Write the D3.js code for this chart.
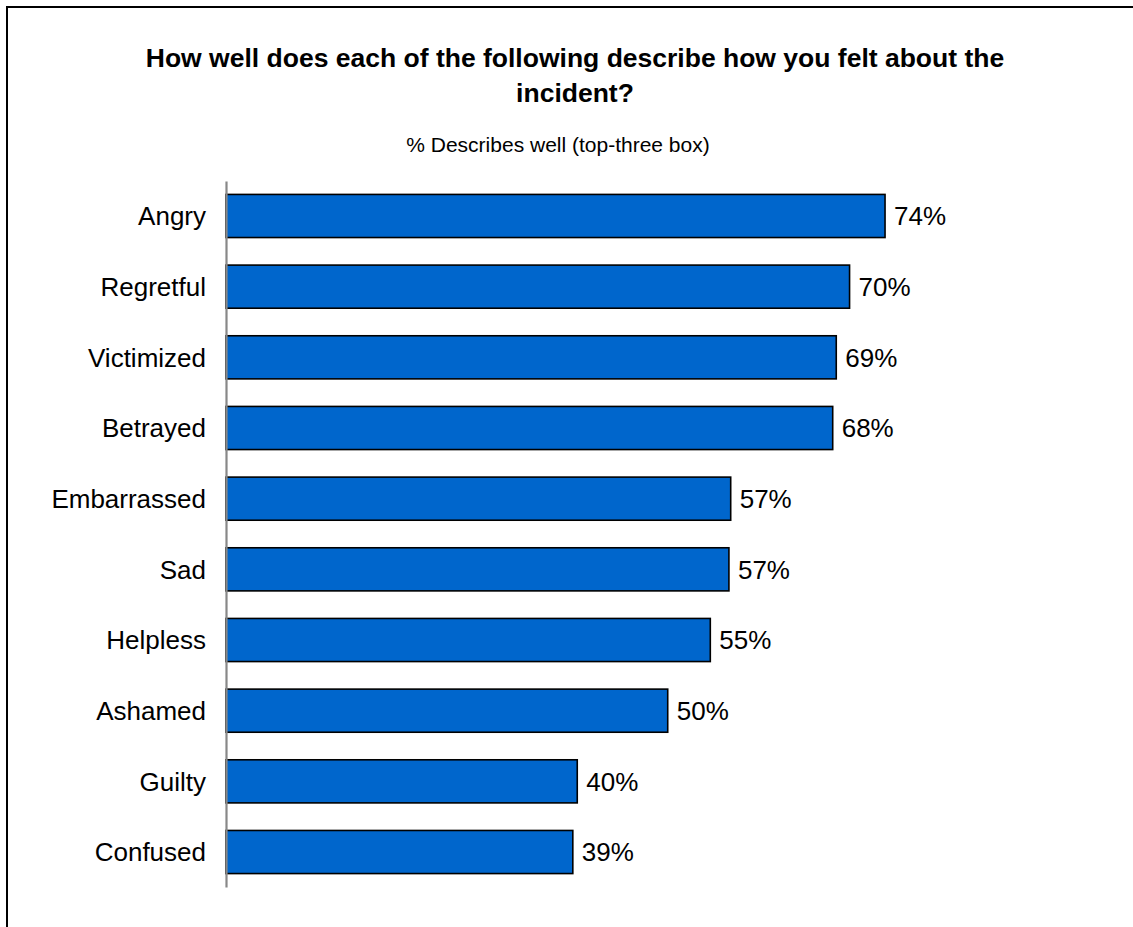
<!DOCTYPE html>
<html>
<head>
<meta charset="utf-8">
<script src="https://cdn.jsdelivr.net/npm/d3@7"></script>
<style>
  html, body { margin: 0; padding: 0; background: #fff; overflow: hidden; }
  svg { display: block; font-family: "Liberation Sans", Arial, sans-serif; }
</style>
</head>
<body>
<svg id="chart" width="1133" height="927"></svg>
<script>
const titleLines = ["How well does each of the following describe how you felt about the", "incident?"];
const subtitle = "% Describes well (top-three box)";
const categories = ["Angry", "Regretful", "Victimized", "Betrayed", "Embarrassed", "Sad", "Helpless", "Ashamed", "Guilty", "Confused"];
const values = [74.3, 70.3, 68.8, 68.4, 56.9, 56.7, 54.6, 49.8, 39.6, 39.1];

const svg = d3.select("#chart");

// outer frame: only left and top edges are inside the picture
svg.append("path")
  .attr("d", "M7,927 L7,7 L1133,7")
  .attr("fill", "none").attr("stroke", "#000").attr("stroke-width", 2);

// title
svg.append("g").selectAll("text").data(titleLines).join("text")
  .attr("x", 575)
  .attr("y", (d, i) => 67 + i * 35)
  .attr("text-anchor", "middle")
  .attr("font-size", 26.5)
  .attr("font-weight", "bold")
  .attr("fill", "#000")
  .text(d => d);

svg.append("text")
  .attr("x", 558).attr("y", 152)
  .attr("text-anchor", "middle")
  .attr("font-size", 21)
  .attr("fill", "#000")
  .text(subtitle);

const x = d3.scaleLinear().domain([0, 100]).range([226, 1113]);
const y = d3.scaleBand().domain(categories).range([181, 887])
  .paddingInner(0.39).paddingOuter(0.19);

// bars
svg.append("g").selectAll("rect").data(categories).join("rect")
  .attr("x", x(0))
  .attr("y", d => y(d))
  .attr("width", (d, i) => x(values[i]) - x(0))
  .attr("height", y.bandwidth())
  .attr("fill", "#0066CC")
  .attr("stroke", "#000")
  .attr("stroke-width", 1.6);

// category axis
const yAxis = d3.axisLeft(y).tickSize(0).tickPadding(20);
const ag = svg.append("g").attr("transform", `translate(${x(0)},0)`).call(yAxis);
ag.select(".domain").attr("stroke", "#888").attr("stroke-width", 2.2);
ag.selectAll("text")
  .attr("font-size", 26)
  .attr("font-family", "'Liberation Sans', Arial, sans-serif")
  .attr("fill", "#000")
  .attr("dy", "0.36em");

// value labels
svg.append("g").selectAll("text").data(categories).join("text")
  .attr("x", (d, i) => x(values[i]) + 9)
  .attr("y", d => y(d) + y.bandwidth() / 2)
  .attr("dy", "0.36em")
  .attr("font-size", 26)
  .attr("fill", "#000")
  .text((d, i) => Math.round(values[i]) + "%");
</script>
</body>
</html>
